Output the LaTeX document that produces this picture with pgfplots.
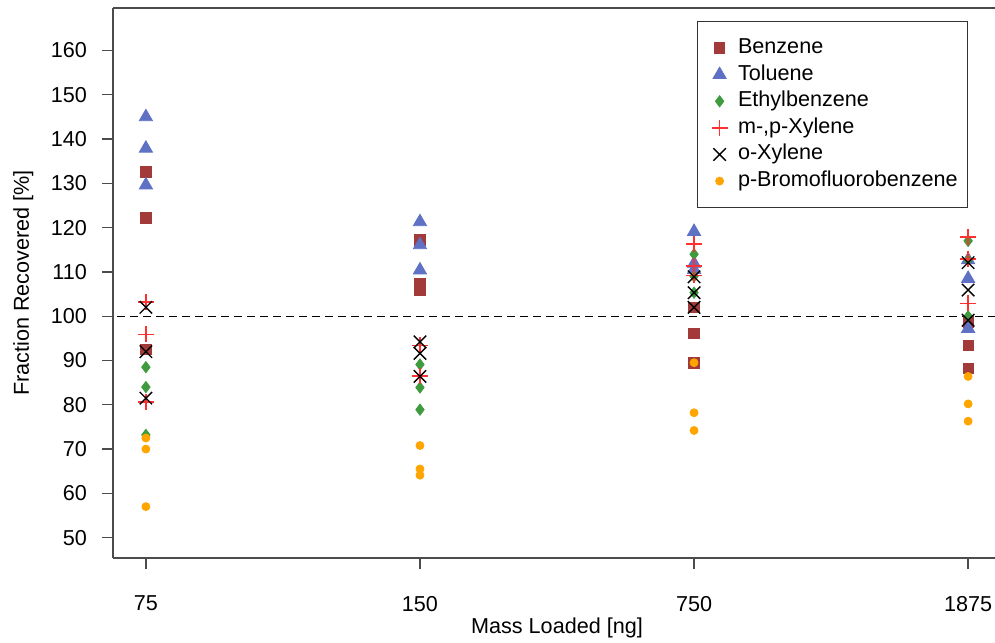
\documentclass[border=0pt]{standalone}
\usepackage{fontspec}
\setmainfont{Liberation Sans}
\usepackage{pgfplots}
\pgfplotsset{compat=1.18}

\definecolor{cbenz}{HTML}{A33A3A}
\definecolor{ctol}{HTML}{5E71C4}
\definecolor{cethyl}{HTML}{3E9B3E}
\definecolor{cmp}{HTML}{FF3030}
\definecolor{cbfb}{HTML}{FFA500}

\newcommand{\lfont}{\fontsize{10.8}{13}\selectfont}

\begin{document}
\begin{tikzpicture}
\begin{axis}[
    name=ax,
    scale only axis,
    width=444pt, height=275pt,
    xmin=0.88, xmax=4.12, ymin=45.4, ymax=169.6,
    axis x line=box, axis y line=left,
    xtick pos=lower,
    axis line style={-, black!70, line width=0.7pt},
    xtick={1,2,3,4}, xticklabels={75,150,750,1875},
    ytick={50,60,...,160},
    tick align=outside, major tick length=5.5pt,
    tick style={black!70, line width=0.7pt},
    /pgf/number format/assume math mode=true,
    tick label style={font=\lfont},
    yticklabel style={xshift=-4pt},
    xticklabel style={yshift=-10pt},
    label style={font=\lfont},
    xlabel={Mass Loaded [ng]},
    ylabel={Fraction Recovered [\%]},
    xlabel style={at={(axis description cs:0.5,0)}, anchor=center, yshift=-35pt},
    ylabel style={at={(axis description cs:-0.101,0.5)}, anchor=center},
    legend style={at={(0.963,0.976)}, anchor=north east, draw=black!80,
        font=\lfont, inner xsep=3pt, inner ysep=6.6pt, row sep=0pt,
        nodes={inner xsep=2pt, inner ysep=1.4pt, text height=8pt, text depth=2.5pt},
        cells={anchor=west}},
    legend image code/.code={\path (0pt,0pt) (15pt,0pt);
        \draw[#1] plot coordinates {(8pt,0pt)};},
    only marks,
]
% reference line
\addplot[forget plot, no markers, draw=black, line width=0.5pt,
    dash pattern=on 4pt off 2.5pt, sharp plot] coordinates {(0.8,100) (4.2,100)};

\addplot[mark=square*, mark size=2.6pt, mark options={draw=cbenz, fill=cbenz}] coordinates {
    (1,132.6) (1,122.2) (1,92.5)
    (2,117.2) (2,107.4) (2,105.9)
    (3,102.0) (3,96.1) (3,89.5)
    (4,98.7) (4,93.4) (4,88.2)
};
\addplot[mark=triangle*, mark size=3.8pt, mark options={draw=ctol, fill=ctol}] coordinates {
    (1,145.0) (1,137.9) (1,129.6)
    (2,121.3) (2,116.1) (2,110.4)
    (3,119.1) (3,111.9) (3,110.5)
    (4,112.7) (4,108.5) (4,97.2)
};
\addplot[mark=diamond*, mark size=2.8pt, mark options={draw=cethyl, fill=cethyl}] coordinates {
    (1,88.5) (1,84.0) (1,73.2)
    (2,89.1) (2,83.9) (2,78.9)
    (3,114.0) (3,109.0) (3,105.3)
    (4,117.0) (4,112.7) (4,100.0)
};
\addplot[mark=+, mark size=4pt, mark options={draw=cmp, line width=0.7pt}] coordinates {
    (1,103.2) (1,95.9) (1,80.6)
    (2,93.4) (2,86.4) (2,86.6)
    (3,116.3) (3,111.3) (3,109.2)
    (4,117.9) (4,112.9) (4,102.9)
};
\addplot[mark=x, mark size=4.4pt, mark options={draw=black, line width=0.7pt}] coordinates {
    (1,102.0) (1,92.0) (1,81.5)
    (2,94.2) (2,91.6) (2,86.4)
    (3,108.9) (3,105.3) (3,102.0)
    (4,112.1) (4,105.9) (4,99.1)
};
\addplot[mark=*, mark size=2pt, mark options={draw=cbfb, fill=cbfb}] coordinates {
    (1,72.5) (1,70.0) (1,57.0)
    (2,70.8) (2,65.5) (2,64.1)
    (3,89.5) (3,78.2) (3,74.2)
    (4,86.4) (4,80.2) (4,76.3)
};
\legend{Benzene, Toluene, Ethylbenzene, {m-,p-Xylene}, o-Xylene, p-Bromofluorobenzene}
\end{axis}
\pgfresetboundingbox
\path[use as bounding box] ([xshift=-56.5pt,yshift=-42pt]ax.south west)
    rectangle ([xshift=441pt,yshift=4pt]ax.north west);
\end{tikzpicture}
\end{document}
